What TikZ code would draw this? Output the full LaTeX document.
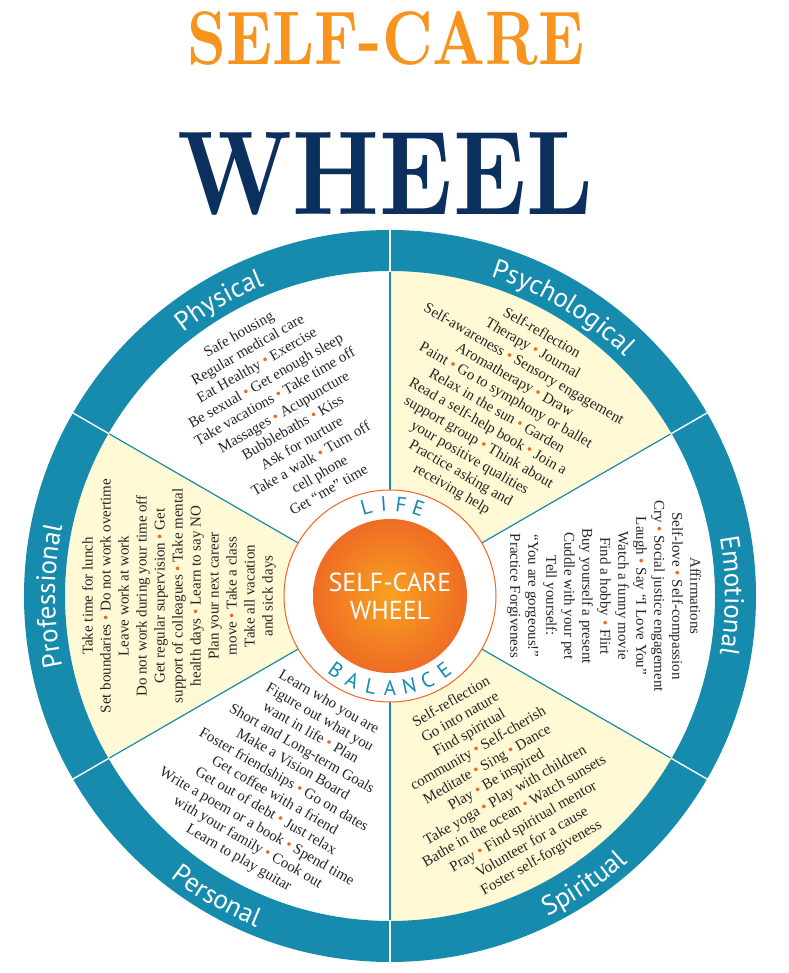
\documentclass[tikz,border=0pt]{standalone}
\usepackage{fontspec}
\usepackage{graphicx}
\newfontfamily\bandfont{PT Sans}
\newfontfamily\itemfont{Liberation Serif}
\usetikzlibrary{calc, decorations.text}

\definecolor{wheelteal}{RGB}{22,139,173}
\definecolor{sectorcream}{RGB}{255,249,214}
\definecolor{dotorange}{RGB}{242,101,34}
\definecolor{titleorange}{RGB}{247,148,30}
\definecolor{titlenavy}{RGB}{12,48,94}
\definecolor{hubinner}{RGB}{248,162,32}
\definecolor{hubouter}{RGB}{239,108,36}
\definecolor{itemgray}{RGB}{40,36,36}

\newcommand{\bul}{\textcolor{dotorange}{\textbullet}}

\begin{document}
\begin{tikzpicture}[
    x=1pt, y=1pt,
    items/.style={align=center, text=itemgray, font=\itemfont\fontsize{15}{18}\selectfont, inner sep=0},
    bandlabel/.style={decorate, decoration={text along path, text align=center, text color=white}},
    ringletter/.style={text=wheelteal, font=\bandfont\fontsize{21}{21}\selectfont, inner sep=0},
    divider/.style={wheelteal, line width=1.2pt},
    bandcut/.style={white, line width=1.4pt}
]
\useasboundingbox (0,0) rectangle (788,973);
\coordinate (C) at (390,377);
\node[inner sep=0, text=titleorange] (titleTop) at (386,934.5) {\resizebox{397pt}{53pt}{\bfseries SELF-CARE}};
\node[inner sep=0, text=titlenavy] (titleBottom) at (385.5,799) {\resizebox{415pt}{82pt}{\bfseries WHEEL}};
% sectors and rim
\foreach \a in {30,150,270}
    \fill[sectorcream] (C) -- ($(C)+(\a:326)$) arc[start angle=\a, end angle=\a+60, radius=326] -- cycle;
\foreach \a in {30,90,...,330}
    \draw[divider] ($(C)+(\a:106)$) -- ($(C)+(\a:326)$);
\draw[wheelteal, line width=41pt] (C) circle[radius=345.5];
\foreach \a in {30,90,...,330}
    \draw[bandcut] ($(C)+(\a:324)$) -- ($(C)+(\a:367)$);
\path[bandlabel, decoration={text={|\bandfont\fontsize{27}{27}\selectfont|Physical}}] ($(C)+(150:335)$) arc[start angle=150, end angle=90, radius=335];
\path[bandlabel, decoration={text={|\bandfont\fontsize{27}{27}\selectfont|Psychological}}] ($(C)+(90:335)$) arc[start angle=90, end angle=28, radius=335];
\path[bandlabel, decoration={text={|\bandfont\fontsize{27}{27}\selectfont|Emotional}}] ($(C)+(30:335)$) arc[start angle=30, end angle=-30, radius=335];
\path[bandlabel, decoration={text={|\bandfont\fontsize{27}{27}\selectfont|Professional}}] ($(C)+(210:335)$) arc[start angle=210, end angle=150, radius=335];
\path[bandlabel, decoration={text={|\bandfont\fontsize{27}{27}\selectfont|Personal}}] ($(C)+(-150:357)$) arc[start angle=-150, end angle=-90, radius=357];
\path[bandlabel, decoration={text={|\bandfont\fontsize{27}{27}\selectfont|Spiritual}}] ($(C)+(-86:357)$) arc[start angle=-86, end angle=-26, radius=357];
% hub
\draw[dotorange, line width=1pt, fill=white] (C) circle[radius=106];
\node[circle, minimum size=154pt, inner color=hubinner, outer color=hubouter, text=white, align=center,
      font=\bandfont\fontsize{26}{28}\selectfont] (hub) at (C) {SELF-CARE\\WHEEL};
\foreach \ch [count=\i, evaluate=\i as \ang using 116-11*\i] in {L,I,F,E}
    \node[ringletter, rotate=\ang-90] (life\i) at ($(C)+(\ang:92)$) {\ch};
\foreach \ch [count=\i, evaluate=\i as \ang using 12*\i-138] in {B,A,L,A,N,C,E}
    \node[ringletter, rotate=\ang+90] (balance\i) at ($(C)+(\ang:92)$) {\ch};
% lists
\node[items, rotate=30] (physItems) at ($(C)+(120:213)$) {Safe housing\\Regular medical care\\Eat Healthy \bul{} Exercise\\Be sexual \bul{} Get enough sleep\\Take vacations \bul{} Take time off\\Massages \bul{} Acupuncture\\Bubblebaths \bul{} Kiss\\Ask for nurture\\Take a walk \bul{} Turn off\\cell phone\\Get “me” time};
\node[items, rotate=-30] (psychItems) at ($(C)+(60:213)$) {Self-reflection\\Therapy \bul{} Journal\\Self-awareness \bul{} Sensory engagement\\Aromatherapy \bul{} Draw\\Paint \bul{} Go to symphony or ballet\\Relax in the sun \bul{} Garden\\Read a self-help book \bul{} Join a\\support group \bul{} Think about\\your positive qualities\\Practice asking and\\receiving help};
\node[items, rotate=-90] (emoItems) at ($(C)+(0:214)$) {Affirmations\\Self-love \bul{} Self-compassion\\Cry \bul{} Social justice engagement\\Laugh \bul{} Say “I Love You”\\Watch a funny movie\\Find a hobby \bul{} Flirt\\Buy yourself a present\\Cuddle with your pet\\Tell yourself:\\“You are gorgeous!”\\Practice Forgiveness};
\node[items, rotate=30] (spiritItems) at ($(C)+(-60:213)$) {Self-reflection\\Go into nature\\Find spiritual\\community \bul{} Self-cherish\\Meditate \bul{} Sing \bul{} Dance\\Play \bul{} Be inspired\\Take yoga \bul{} Play with children\\Bathe in the ocean \bul{} Watch sunsets\\Pray \bul{} Find spiritual mentor\\Volunteer for a cause\\Foster self-forgiveness};
\node[items, rotate=-30] (persItems) at ($(C)+(-120:213)$) {Learn who you are\\Figure out what you\\want in life \bul{} Plan\\Short and Long-term Goals\\Make a Vision Board\\Foster friendships \bul{} Go on dates\\Get coffee with a friend\\Get out of debt \bul{} Just relax\\Write a poem or a book \bul{} Spend time\\with your family \bul{} Cook out\\Learn to play guitar};
\node[items, rotate=90] (profItems) at ($(C)+(180:211)$) {Take time for lunch\\Set boundaries \bul{} Do not work overtime\\Leave work at work\\Do not work during your time off\\Get regular supervision \bul{} Get\\support of colleagues \bul{} Take mental\\health days \bul{} Learn to say NO\\Plan your next career\\move \bul{} Take a class\\Take all vacation\\and sick days};
\end{tikzpicture}
\end{document}
